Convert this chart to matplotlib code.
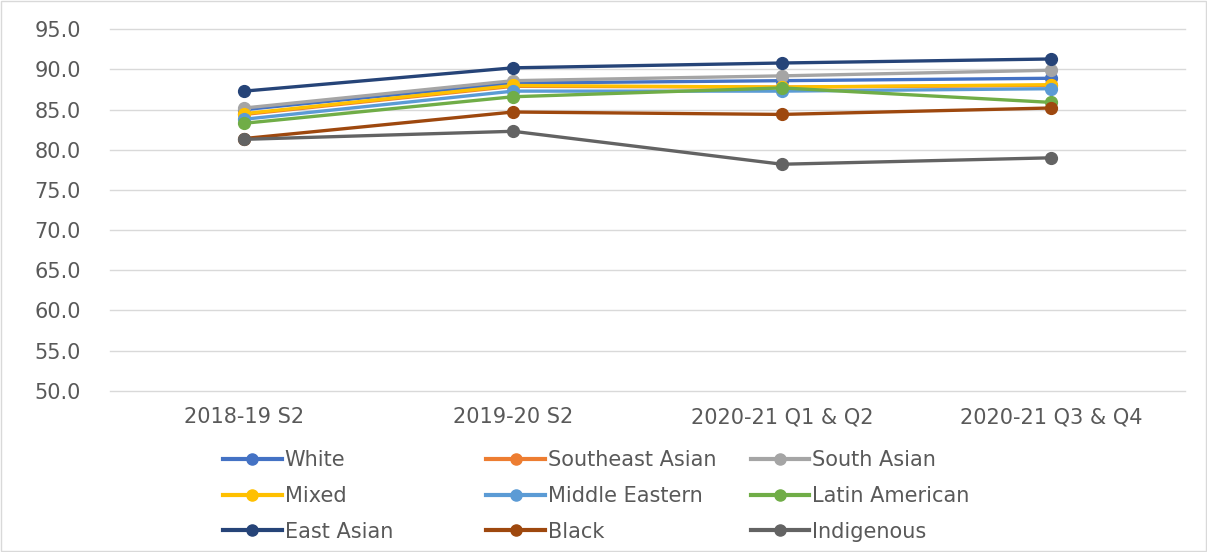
import matplotlib
matplotlib.use("Agg")
import matplotlib.pyplot as plt
from matplotlib.lines import Line2D

periods = ["2018-19 S2", "2019-20 S2", "2020-21 Q1 & Q2", "2020-21 Q3 & Q4"]

white = [85.0, 88.3, 88.6, 88.9]
southeast_asian = [84.4, 87.9, 87.8, 88.0]
south_asian = [85.2, 88.6, 89.2, 89.9]
mixed = [84.5, 88.0, 87.8, 88.1]
middle_eastern = [83.8, 87.3, 87.3, 87.6]
latin_american = [83.3, 86.6, 87.7, 85.9]
east_asian = [87.3, 90.2, 90.8, 91.3]
black = [81.4, 84.7, 84.4, 85.2]
indigenous = [81.3, 82.3, 78.2, 79.0]

names = ["White", "Southeast Asian", "South Asian", "Mixed", "Middle Eastern",
         "Latin American", "East Asian", "Black", "Indigenous"]
series = [white, southeast_asian, south_asian, mixed, middle_eastern,
          latin_american, east_asian, black, indigenous]
colors = ["#4472C4", "#ED7D31", "#A5A5A5", "#FFC000", "#5B9BD5",
          "#70AD47", "#264478", "#9E480E", "#636363"]

yticks = [50, 55, 60, 65, 70, 75, 80, 85, 90, 95]
txt = "#595959"

fig = plt.figure(figsize=(12.07, 5.52), dpi=100)
ax = fig.add_axes([0.091, 0.292, 0.891, 0.655])

x = range(len(periods))
for vals, c in zip(series, colors):
    ax.plot(x, vals, color=c, lw=2.4, marker="o", markersize=8.5, solid_capstyle="round")

ax.set_xlim(-0.5, 3.5)
ax.set_ylim(50, 95)
ax.set_yticks(yticks)
ax.set_yticklabels(["%.1f" % v for v in yticks])
ax.set_xticks(list(x))
ax.set_xticklabels(periods)
ax.grid(axis="y", color="#D9D9D9", lw=1)
for gl in ax.get_ygridlines():
    gl.set_clip_on(False)
ax.set_axisbelow(True)
for s in ax.spines.values():
    s.set_visible(False)
ax.tick_params(length=0, labelsize=15, colors=txt)
ax.tick_params(axis="y", pad=21)
ax.tick_params(axis="x", pad=12)

# legend in three columns, placed separately like the original
col_x = [0.185, 0.403, 0.622]
for ci in range(3):
    idx = [ci, ci + 3, ci + 6]
    handles = [Line2D([0], [0], color=colors[i], lw=3, marker="o", markersize=8) for i in idx]
    leg = fig.legend(handles, [names[i] for i in idx], loc="upper left",
                     bbox_to_anchor=(col_x[ci], 0.184), frameon=False,
                     fontsize=15, handlelength=2.8, handletextpad=0.15,
                     labelspacing=0.75, borderaxespad=0, borderpad=0)
    for t in leg.get_texts():
        t.set_color(txt)

fig.patches.append(plt.Rectangle((0.001, 0.001), 0.998, 0.998, transform=fig.transFigure,
                                 fill=False, edgecolor="#D9D9D9", lw=1))

fig.savefig("out.png", dpi=100)
